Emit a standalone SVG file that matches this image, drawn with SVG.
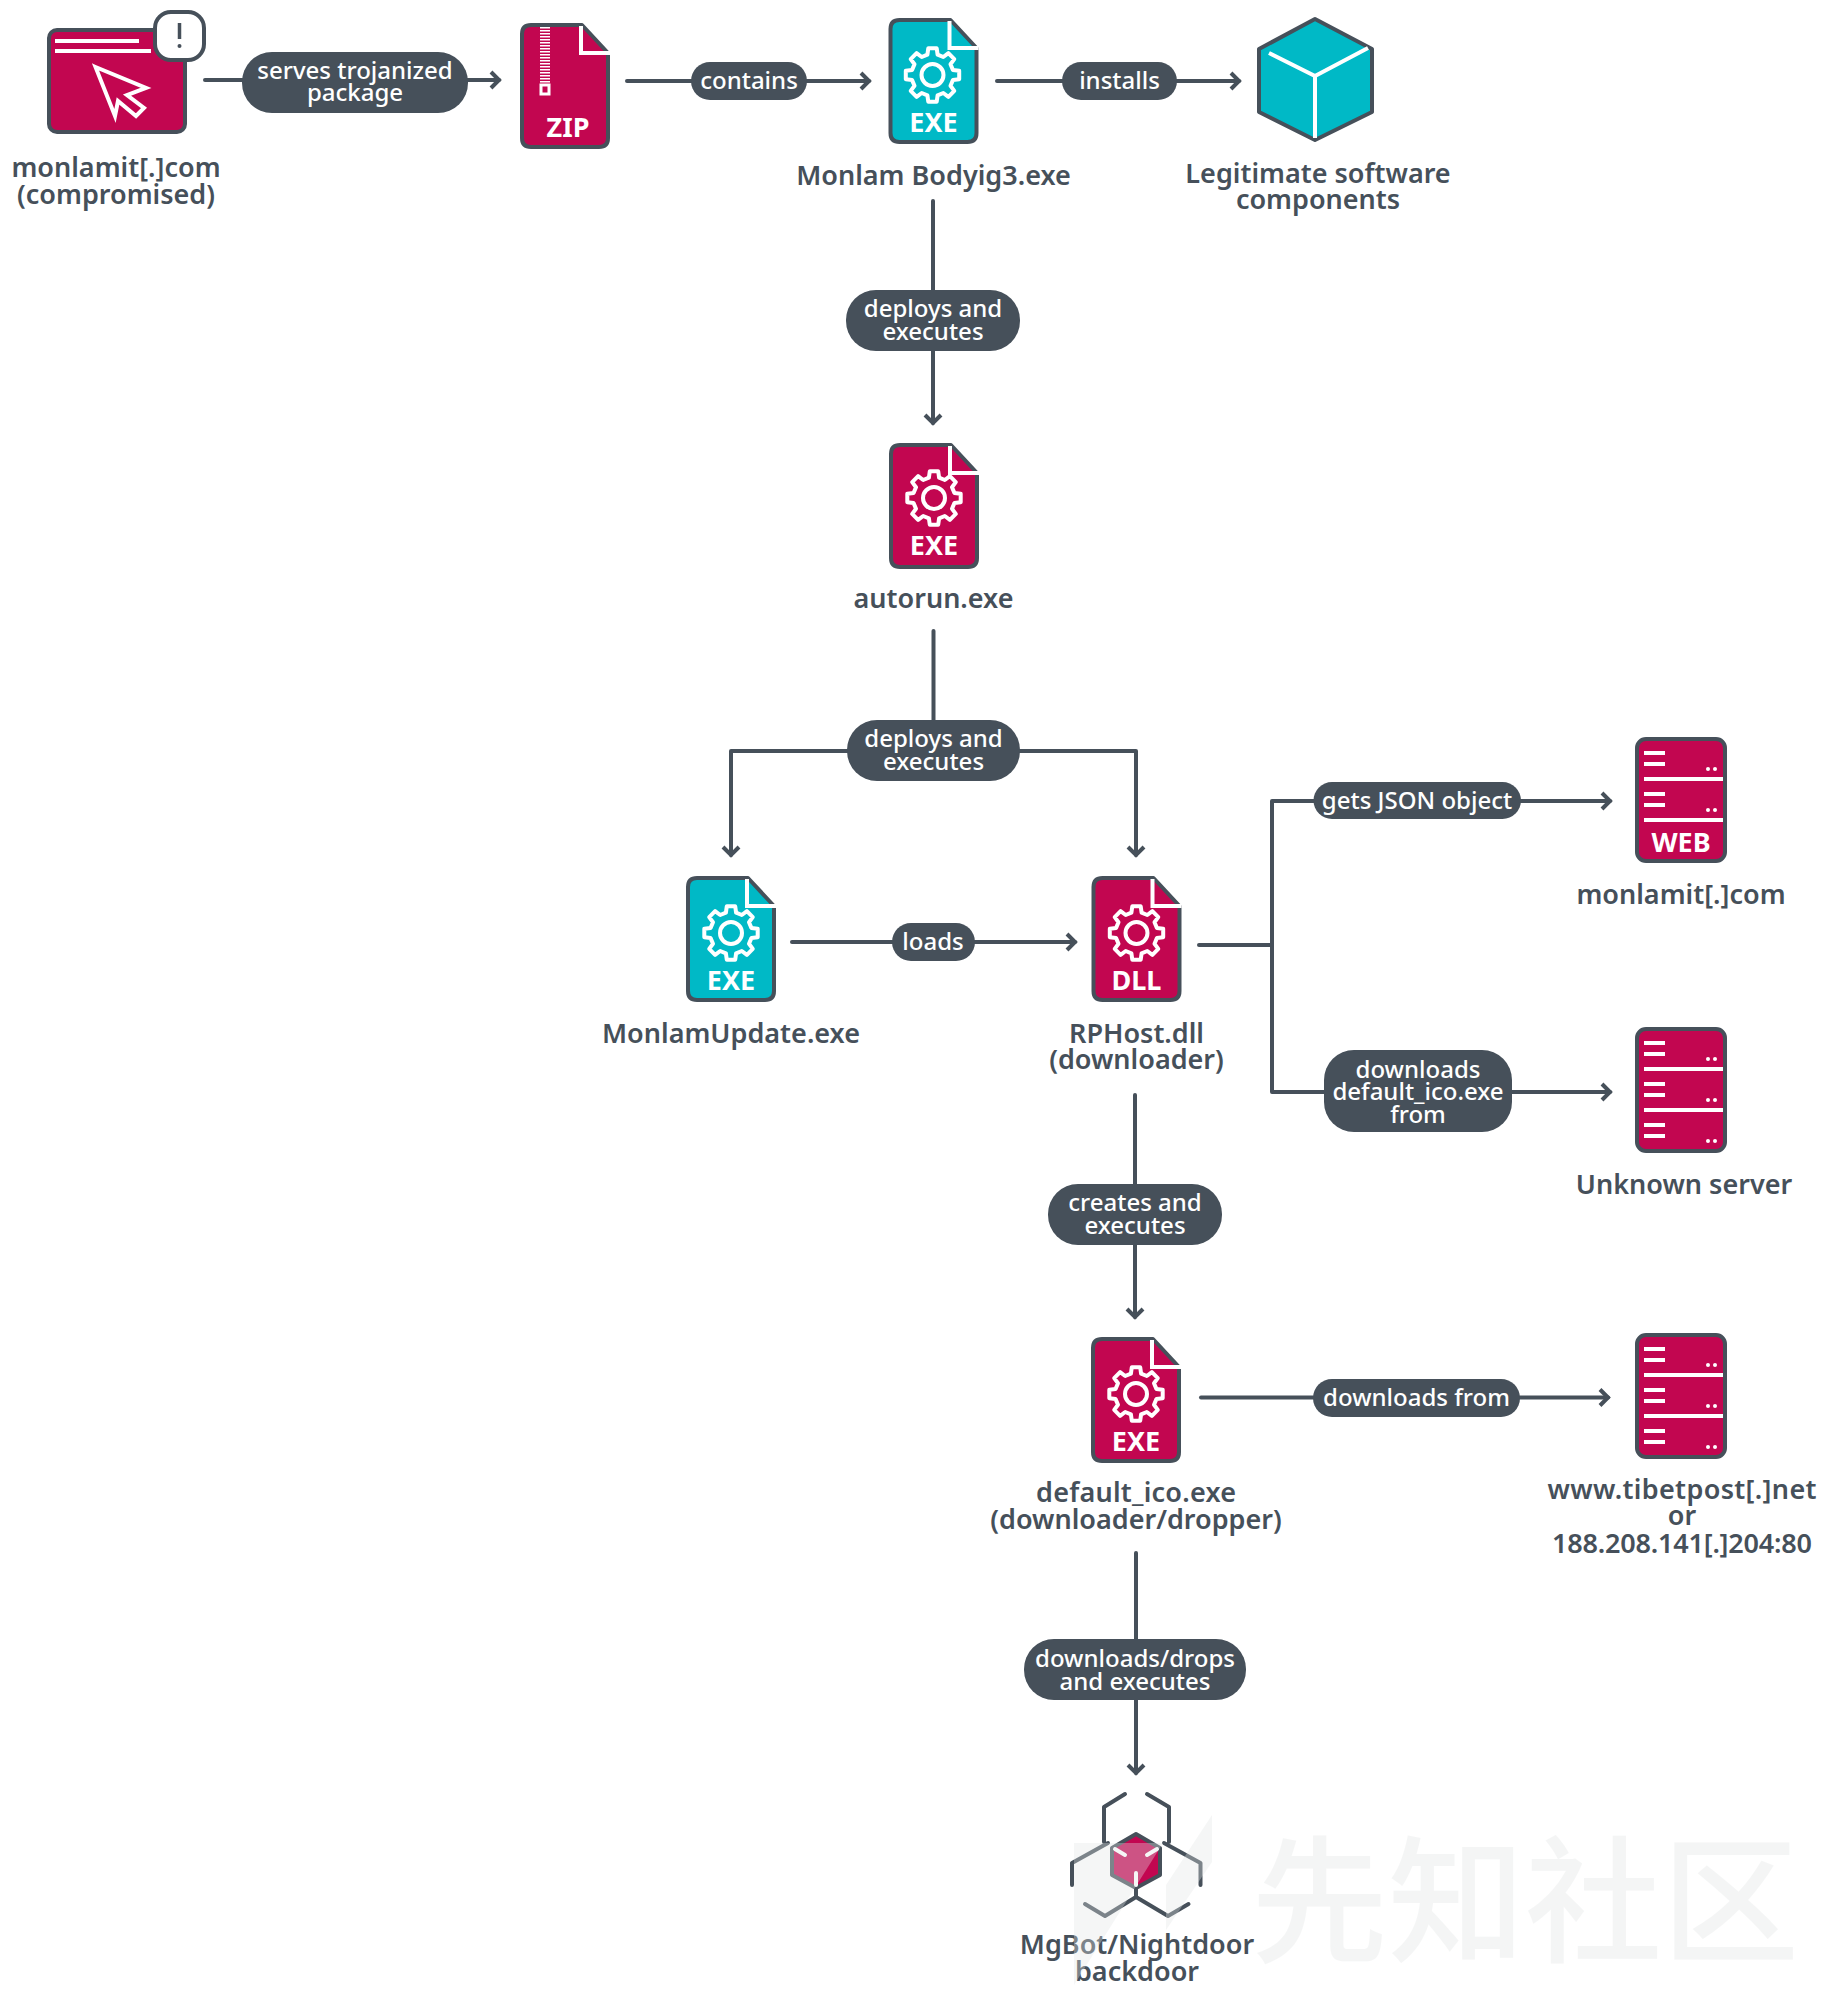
<svg xmlns="http://www.w3.org/2000/svg" xmlns:xlink="http://www.w3.org/1999/xlink" width="1834" height="2000" viewBox="0 0 1834 2000">
<style>
text{font-family:"Noto Sans","Open Sans","Liberation Sans",sans-serif;text-anchor:middle}
.n{font-size:27px;font-weight:600;fill:#46505a}
.p{font-size:24px;font-weight:500;fill:#fff}
.t{font-size:27px;font-weight:700;fill:#fff}
.l{fill:none;stroke:#46505a;stroke-width:4;stroke-linecap:round;stroke-linejoin:round}
.pill{fill:#46505a}
.w{fill:none;stroke:#fff;stroke-width:4}
.o{fill:none;stroke:#46505a;stroke-width:4;stroke-linejoin:round}
.crimson{fill:#c20650}
.teal{fill:#00b9c6}
.wm{fill:#e2e5e5;opacity:.35}
</style>
<defs>
<marker id="arr" markerUnits="userSpaceOnUse" markerWidth="18" markerHeight="22" refX="12" refY="11" orient="auto">
<path d="M4,3 L12,11 L4,19" fill="none" stroke="#46505a" stroke-width="4" stroke-linejoin="miter"/>
</marker>
<path id="file" d="M11,2 H62 L88,30 V115 Q88,124 79,124 H11 Q2,124 2,115 V11 Q2,2 11,2 Z"/>
<g id="fold"><path d="M61,3 V30 H90" class="w"/></g>
<g id="gear">
<path class="w" stroke-linejoin="round" d="M-5.1,-20.4 L-4.2,-26.7 L4.2,-26.7 L5.1,-20.4 L10.8,-18 L15.9,-21.8 L21.8,-15.9 L18,-10.8 L20.4,-5.1 L26.7,-4.2 L26.7,4.2 L20.4,5.1 L18,10.8 L21.8,15.9 L15.9,21.8 L10.8,18 L5.1,20.4 L4.2,26.7 L-4.2,26.7 L-5.1,20.4 L-10.8,18 L-15.9,21.8 L-21.8,15.9 L-18,10.8 L-20.4,5.1 L-26.7,4.2 L-26.7,-4.2 L-20.4,-5.1 L-18,-10.8 L-21.8,-15.9 L-15.9,-21.8 L-10.8,-18 Z"/>
<circle r="11" class="w"/>
</g>
<g id="rack">
<rect x="2" y="2" width="88" height="122" rx="9" class="crimson"/>
<path class="w" stroke-width="3.5" d="M9,16 H30 M9,27 H30 M9,42 H89 M9,57 H30 M9,68 H30 M9,83 H89"/>
<circle cx="73" cy="32" r="2" fill="#fff"/><circle cx="80" cy="32" r="2" fill="#fff"/>
<circle cx="73" cy="73" r="2" fill="#fff"/><circle cx="80" cy="73" r="2" fill="#fff"/>
</g>
<g id="rack3">
<use xlink:href="#rack" href="#rack"/>
<path class="w" stroke-width="3.5" d="M9,98 H30 M9,109 H30"/>
<circle cx="73" cy="114" r="2" fill="#fff"/><circle cx="80" cy="114" r="2" fill="#fff"/>
<rect x="2" y="2" width="88" height="122" rx="9" class="o"/>
</g>
</defs>
<rect width="1834" height="2000" fill="#fff"/>

<g id="connectors">
<path class="l" d="M205,80 H499" marker-end="url(#arr)"/>
<path class="l" d="M627,81 H869" marker-end="url(#arr)"/>
<path class="l" d="M997,81 H1239" marker-end="url(#arr)"/>
<path class="l" d="M933,201 V423" marker-end="url(#arr)"/>
<path class="l" d="M933.5,631 V751"/>
<path class="l" d="M850,751 H731 V855" marker-end="url(#arr)"/>
<path class="l" d="M1018,751 H1136 V855" marker-end="url(#arr)"/>
<path class="l" d="M792,942 H1075" marker-end="url(#arr)"/>
<path class="l" d="M1199,945 H1272"/>
<path class="l" d="M1330,801 H1272 V1092 H1610" marker-end="url(#arr)"/>
<path class="l" d="M1320,801 H1610" marker-end="url(#arr)"/>
<path class="l" d="M1135,1095 V1317" marker-end="url(#arr)"/>
<path class="l" d="M1201,1397.500 H1608" marker-end="url(#arr)"/>
<path class="l" d="M1136,1553 V1773" marker-end="url(#arr)"/>
<g id="label-serves"><rect class="pill" x="242" y="52" width="226" height="61" rx="30"/><text class="p" x="355" y="79">serves trojanized</text><text class="p" x="355" y="101">package</text></g>
<g id="label-contains"><rect class="pill" x="691" y="62" width="116" height="38" rx="19"/><text class="p" x="749" y="89">contains</text></g>
<g id="label-installs"><rect class="pill" x="1062" y="62" width="115" height="38" rx="19"/><text class="p" x="1119.500" y="89">installs</text></g>
<g id="label-deploys1"><rect class="pill" x="846" y="290" width="174" height="61" rx="30"/><text class="p" x="933" y="317">deploys and</text><text class="p" x="933" y="340">executes</text></g>
<g id="label-deploys2"><rect class="pill" x="847" y="720" width="173" height="61" rx="30"/><text class="p" x="933.500" y="747">deploys and</text><text class="p" x="933.500" y="770">executes</text></g>
<g id="label-loads"><rect class="pill" x="892" y="923" width="83" height="38" rx="19"/><text class="p" x="933" y="950">loads</text></g>
<g id="label-json"><rect class="pill" x="1313.500" y="782" width="207.500" height="37" rx="18.500"/><text class="p" x="1417" y="809">gets JSON object</text></g>
<g id="label-downloads1"><rect class="pill" x="1324" y="1050" width="188" height="82" rx="30"/><text class="p" x="1418" y="1078">downloads</text><text class="p" x="1418" y="1100">default_ico.exe</text><text class="p" x="1418" y="1123">from</text></g>
<g id="label-creates"><rect class="pill" x="1048" y="1184" width="174" height="61" rx="30"/><text class="p" x="1135" y="1211">creates and</text><text class="p" x="1135" y="1234">executes</text></g>
<g id="label-downloads2"><rect class="pill" x="1313" y="1379" width="207" height="38" rx="19"/><text class="p" x="1416.500" y="1406">downloads from</text></g>
<g id="label-drops"><rect class="pill" x="1024" y="1639" width="222" height="61" rx="30"/><text class="p" x="1135" y="1667">downloads/drops</text><text class="p" x="1135" y="1690">and executes</text></g>
</g>

<g id="node-site">
<rect x="49" y="30" width="136" height="102" rx="8" class="crimson"/>
<rect x="49" y="30" width="136" height="102" rx="8" class="o"/>
<path class="w" d="M55,41 H139 M55,51 H151"/>
<path class="w" stroke-width="3.500" stroke-linejoin="miter" d="M95.500,67 L146,88 L127,95 L144,108 L136,116 L118,101 L115,116 Z"/>
<rect x="155" y="12" width="49" height="48" rx="16" fill="#fff" stroke="#46505a" stroke-width="4"/>
<path d="M179.500,23 V39" stroke="#46505a" stroke-width="3.500"/><circle cx="179.500" cy="46" r="2" fill="#46505a"/>
<text class="n" x="116" y="177">monlamit[.]com</text><text class="n" x="116" y="204">(compromised)</text>
</g>
<g id="node-zip" transform="translate(520,23)">
<use xlink:href="#file" href="#file" class="crimson"/><use xlink:href="#file" href="#file" class="o"/><use xlink:href="#fold" href="#fold"/>
<path d="M25,4 V62" stroke="#fff" stroke-width="10" stroke-dasharray="1.500 1.500"/>
<rect x="21" y="62" width="8" height="9" fill="none" stroke="#fff" stroke-width="3"/>
<text class="t" x="48" y="114">ZIP</text>
</g>
<g id="node-monlam" transform="translate(888.500,18)">
<use xlink:href="#file" href="#file" class="teal"/><use xlink:href="#file" href="#file" class="o"/><use xlink:href="#fold" href="#fold"/>
<use xlink:href="#gear" href="#gear" x="44" y="57"/><text class="t" x="45" y="114">EXE</text>
<text class="n" x="45" y="167">Monlam Bodyig3.exe</text>
</g>
<g id="node-components">
<path d="M1315,19 L1372,49 V112 L1315,140 L1259,112 V49 Z" class="teal"/>
<path d="M1315,19 L1372,49 V112 L1315,140 L1259,112 V49 Z" class="o"/>
<path class="w" d="M1269,53 L1315,76 L1368,48 M1315,76 V138"/>
<text class="n" x="1318" y="183">Legitimate software</text><text class="n" x="1318" y="209">components</text>
</g>
<g id="node-autorun" transform="translate(889,443)">
<use xlink:href="#file" href="#file" class="crimson"/><use xlink:href="#file" href="#file" class="o"/><use xlink:href="#fold" href="#fold"/>
<use xlink:href="#gear" href="#gear" x="45" y="55"/><text class="t" x="45" y="112">EXE</text>
<text class="n" x="44.500" y="165">autorun.exe</text>
</g>
<g id="node-update" transform="translate(686,876)">
<use xlink:href="#file" href="#file" class="teal"/><use xlink:href="#file" href="#file" class="o"/><use xlink:href="#fold" href="#fold"/>
<use xlink:href="#gear" href="#gear" x="45" y="57"/><text class="t" x="45" y="114">EXE</text>
<text class="n" x="45" y="167">MonlamUpdate.exe</text>
</g>
<g id="node-rphost" transform="translate(1091.500,876)">
<use xlink:href="#file" href="#file" class="crimson"/><use xlink:href="#file" href="#file" class="o"/><use xlink:href="#fold" href="#fold"/>
<use xlink:href="#gear" href="#gear" x="45" y="57"/><text class="t" x="45" y="114">DLL</text>
<text class="n" x="45" y="167">RPHost.dll</text><text class="n" x="45" y="193">(downloader)</text>
</g>
<g id="node-default" transform="translate(1091,1337)">
<use xlink:href="#file" href="#file" class="crimson"/><use xlink:href="#file" href="#file" class="o"/><use xlink:href="#fold" href="#fold"/>
<use xlink:href="#gear" href="#gear" x="45" y="57"/><text class="t" x="45" y="114">EXE</text>
<text class="n" x="45" y="165" textLength="200">default_ico.exe</text><text class="n" x="45" y="192">(downloader/dropper)</text>
</g>
<g id="node-web" transform="translate(1635,737)">
<use xlink:href="#rack" href="#rack"/><rect x="2" y="2" width="88" height="122" rx="9" class="o"/>
<text class="t" x="46" y="115">WEB</text><text class="n" x="46" y="167">monlamit[.]com</text>
</g>
<g id="node-unknown" transform="translate(1635,1027)">
<use xlink:href="#rack3" href="#rack3"/>
<text class="n" x="49" y="167">Unknown server</text>
</g>
<g id="node-tibet" transform="translate(1635,1333)">
<use xlink:href="#rack3" href="#rack3"/>
<text class="n" x="47" y="166" textLength="269">www.tibetpost[.]net</text><text class="n" x="47" y="192">or</text><text class="n" x="47" y="220" textLength="260">188.208.141[.]204:80</text>
</g>
<g id="node-backdoor">
<path d="M1136,1834 L1160,1848 V1875 L1136,1888 L1112,1875 V1848 Z" class="crimson"/>
<path d="M1136,1834 L1160,1848 V1875 L1136,1888 L1112,1875 V1848 Z" class="o"/>
<path class="l" d="M1125,1794 L1104,1807 V1842 M1147,1794 L1169,1807 V1842 M1072,1885 V1863 L1108,1843 M1200.500,1885 V1863 L1164,1843 M1136,1888 V1897 L1105,1916 L1085,1904 M1136,1897 L1168,1916 L1188.500,1904"/>
<path class="w" stroke-linecap="round" d="M1115,1849 L1125,1855 M1157,1849 L1147,1855 M1136,1873 V1885"/>
<text class="n" x="1137" y="1954">MgBot/Nightdoor</text><text class="n" x="1137" y="1981">backdoor</text>
</g>
<g id="watermark">
<path class="wm" d="M1074,1843 H1163 L1074,1985 Z M1212,1815 V1862 L1166,1930 V1885 Z"/>
<text x="1525" y="1952" style="font-family:'Noto Sans CJK SC',sans-serif;font-size:137px;font-weight:500;fill:#e2e5e5;opacity:.35">先知社区</text>
</g>
</svg>
